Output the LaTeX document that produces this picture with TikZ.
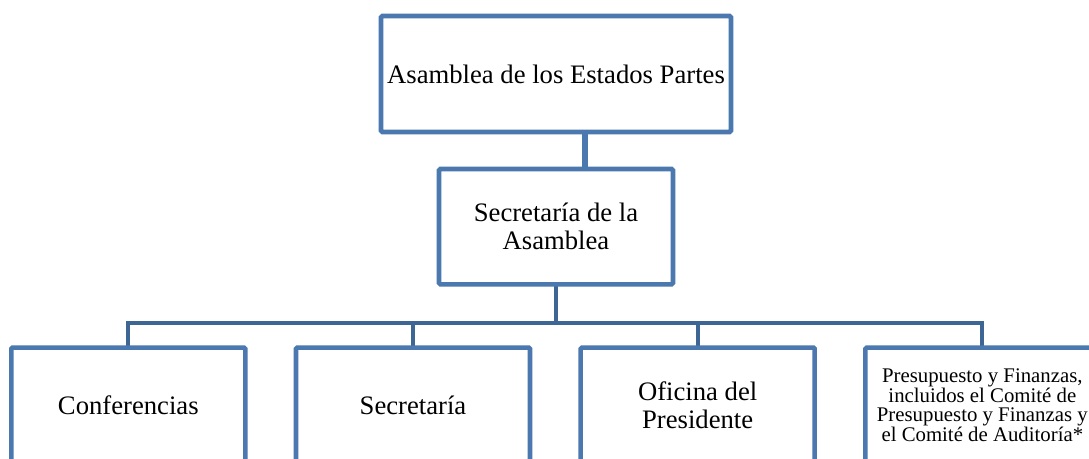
\documentclass[tikz,border=0pt]{standalone}
\usepackage{fontspec}
\setmainfont{Liberation Serif}
\usepackage{xcolor}
\usepackage{tikz}
\usetikzlibrary{positioning,backgrounds}
\definecolor{boxblue}{RGB}{74,120,175}
\definecolor{busblue}{RGB}{62,102,148}

\begin{document}
\begin{tikzpicture}[
  box/.style={rectangle, draw=boxblue, line width=3.4pt, fill=white,
    align=center, rounded corners=1pt, outer sep=0pt, inner sep=0pt,
    minimum width=175.5pt, minimum height=86.5pt,
    font=\fontsize{20}{21}\selectfont},
  bus/.style={draw=busblue, line width=3.2pt},
  link/.style={draw=boxblue, line width=4.5pt}
]
\useasboundingbox (0,0) rectangle (816.75pt,-344.25pt);
\clip (0,0) rectangle (816.75pt,-344.25pt);
\node[box, minimum width=262.5pt, minimum height=87pt] (A) at (417pt,-55.5pt) {Asamblea de los Estados Partes};
\node[box, below=27.75pt of A] (B) {Secretaría de la\\Asamblea};
\node[box, below=47.4pt of B, xshift=-107.25pt] (C2) {Secretaría};
\node[box, left=38pt of C2] (C1) {Conferencias};
\node[box, right=38pt of C2] (C3) {Oficina del\\Presidente};
\node[box, right=38pt of C3, font=\fontsize{15.6}{14.8}\selectfont] (C4) {Presupuesto y Finanzas,\\incluidos el Comité de\\Presupuesto y Finanzas y\\el Comité de Auditoría*};
\begin{scope}[on background layer]
\draw[link] ([xshift=21.75pt]A.south) -- ([xshift=21.75pt]B.north);
\coordinate[above=18.4pt of C2.north] (J);
\draw[bus] (C1.north) |- (J) -| (C4.north);
\draw[bus] (C2.north) -- (J);
\draw[bus] (C3.north) -- (C3.north |- J);
\draw[bus] (B.south) -- (B.south |- J);
\end{scope}
\end{tikzpicture}
\end{document}
